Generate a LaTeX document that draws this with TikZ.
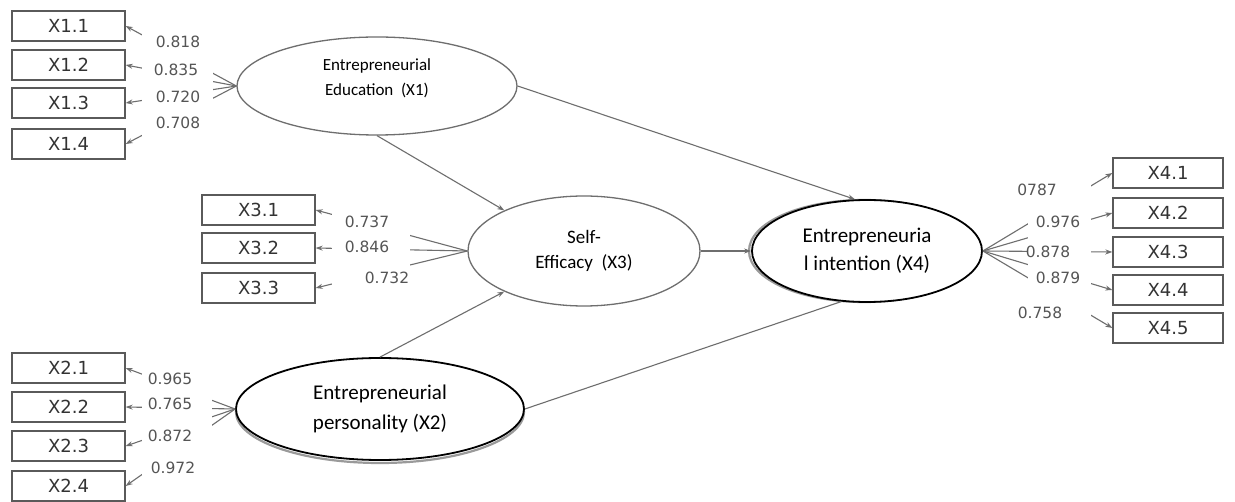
\documentclass[tikz,border=0pt]{standalone}
\usepackage{fontspec}
\setmainfont{Carlito}
\newfontfamily\dvs{DejaVu Sans}
\usetikzlibrary{shapes.geometric,arrows.meta}
\definecolor{ln}{HTML}{6E6E6E}
\definecolor{bx}{HTML}{5A5A5A}
\definecolor{tx}{HTML}{333333}
\definecolor{lbl}{HTML}{555555}
\definecolor{shd}{HTML}{9A9A9A}
\begin{document}
\begin{tikzpicture}[x=1pt,y=-1pt,
 ind/.style={draw=bx,line width=1.3pt,minimum width=113pt,minimum height=30pt,inner sep=0pt,font=\dvs\fontsize{18}{20}\selectfont,text=tx},
 ind4/.style={ind,minimum width=110pt},
 lat/.style={ellipse,inner sep=0pt,align=center,fill=white},
 soft/.style={lat,draw=ln,line width=1.3pt},
 hard/.style={lat,draw=black,line width=1.8pt},
 shadow/.style={ellipse,inner sep=0pt,draw=shd,line width=2.2pt},
 lv/.style={font=\dvs\fontsize{15.5}{17}\selectfont,text=lbl,inner sep=0pt},
 arr/.style={draw=ln,line width=1.1pt,-{Stealth[length=7pt,width=5pt]}},
 plain/.style={draw=ln,line width=1.1pt},
 mask/.style={fill=white,draw=none}]
\useasboundingbox (0,0) rectangle (1235,502);
\fill[white] (0,0) rectangle (1235,502);

% latent variables
\node[shadow,minimum width=288pt,minimum height=102pt] (x2s) at (380,412) {};
\node[shadow,minimum width=230pt,minimum height=102pt] (x4s) at (864,251) {};
\node[soft,minimum width=280pt,minimum height=98pt] (x1) at (377,86) {};
\node[font=\fontsize{17}{25}\selectfont,align=center,inner sep=0pt] (x1t) at (377,78) {Entrepreneurial\\Education~~(X1)};
\node[soft,minimum width=232pt,minimum height=110pt,font=\fontsize{19}{25}\selectfont] (x3) at (584,251) {Self-\\Efficacy~~(X3)};
\node[hard,minimum width=230pt,minimum height=102pt,font=\fontsize{21}{28}\selectfont] (x4) at (867,251) {Entrepreneuria\\l intention (X4)};
\node[hard,minimum width=288pt,minimum height=102pt,font=\fontsize{21}{30}\selectfont] (x2) at (380,409) {Entrepreneurial\\personality (X2)};

% indicators
\node[ind] (x11) at (68.5,26) {X1.1};
\node[ind] (x12) at (68.5,65) {X1.2};
\node[ind] (x13) at (68.5,103) {X1.3};
\node[ind] (x14) at (68.5,144) {X1.4};
\node[ind] (x21) at (68.5,368) {X2.1};
\node[ind] (x22) at (68.5,407) {X2.2};
\node[ind] (x23) at (68.5,446) {X2.3};
\node[ind] (x24) at (68.5,486) {X2.4};
\node[ind] (x31) at (258.5,210) {X3.1};
\node[ind] (x32) at (258.5,248) {X3.2};
\node[ind] (x33) at (258.5,288) {X3.3};
\node[ind4] (x41) at (1168,173) {X4.1};
\node[ind4] (x42) at (1168,213) {X4.2};
\node[ind4] (x43) at (1168,252) {X4.3};
\node[ind4] (x44) at (1168,290) {X4.4};
\node[ind4] (x45) at (1168,328) {X4.5};

% loadings
\foreach \i in {1,2,3,4} \draw[arr] (x1.west) -- (x1\i.east);
\foreach \i in {1,2,3,4} \draw[arr] (x2.west) -- (x2\i.east);
\foreach \i in {1,2,3} \draw[arr] (x3.west) -- (x3\i.east);
\foreach \i in {1,2,3,4,5} \draw[arr] (x4.east) -- (x4\i.west);

% structural paths
\draw[arr] (x1.south) -- (x3.153);
\draw[arr] (x2.north) -- (x3.207);
\draw[arr] (x1.east) -- (x4.103);
\draw[arr] (x3.east) -- (x4.west);
\draw[plain] (x2.east) -- (x4.-117);

% label backgrounds
\fill[mask] (142,30) rectangle (213,140);
\fill[mask] (142,366) rectangle (212,482);
\fill[mask] (332,198) rectangle (410,287);
\fill[mask] (1028,178) rectangle (1091,322);

% loading values
\node[lv] (l11) at (178,42) {0.818};
\node[lv] (l12) at (176,70) {0.835};
\node[lv] (l13) at (178,97) {0.720};
\node[lv] (l14) at (178,123) {0.708};
\node[lv] (l21) at (170,379) {0.965};
\node[lv] (l22) at (170,404) {0.765};
\node[lv] (l23) at (170,436) {0.872};
\node[lv] (l24) at (173,468) {0.972};
\node[lv] (l31) at (367,222) {0.737};
\node[lv] (l32) at (367,247) {0.846};
\node[lv] (l33) at (387,278) {0.732};
\node[lv] (l41) at (1037,190) {0787};
\node[lv] (l42) at (1058,222) {0.976};
\node[lv] (l43) at (1048,252) {0.878};
\node[lv] (l44) at (1058,278) {0.879};
\node[lv] (l45) at (1040,313) {0.758};
\end{tikzpicture}
\end{document}
